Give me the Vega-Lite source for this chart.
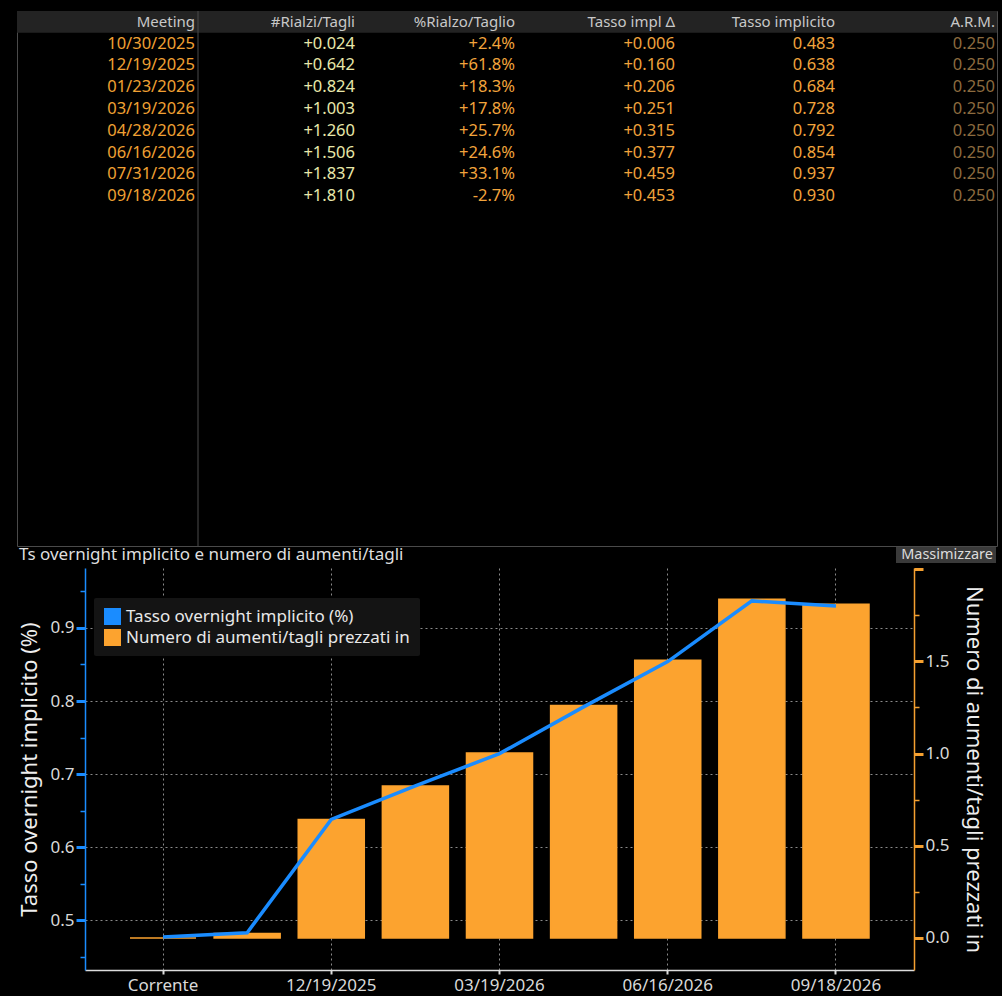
{
  "$schema": "https://vega.github.io/schema/vega-lite/v6.json",
  "background": "#000000",
  "padding": {"left": 16, "top": 10, "right": 4, "bottom": 4},
  "config": {
    "font": "Noto Sans",
    "locale": {"number": {"decimal": ".", "thousands": ",", "grouping": [3], "currency": ["$", ""], "minus": "-"}}
  },
  "datasets": {
    "meetings": [
      {"meeting": "Corrente", "hikes": 0, "rate": 0.477},
      {"meeting": "10/30/2025", "hikes": 0.024, "hike_step": 0.024, "rate_chg": 0.006, "rate": 0.483, "arm": 0.25},
      {"meeting": "12/19/2025", "hikes": 0.642, "hike_step": 0.618, "rate_chg": 0.160, "rate": 0.638, "arm": 0.25},
      {"meeting": "01/23/2026", "hikes": 0.824, "hike_step": 0.183, "rate_chg": 0.206, "rate": 0.684, "arm": 0.25},
      {"meeting": "03/19/2026", "hikes": 1.003, "hike_step": 0.178, "rate_chg": 0.251, "rate": 0.728, "arm": 0.25},
      {"meeting": "04/28/2026", "hikes": 1.260, "hike_step": 0.257, "rate_chg": 0.315, "rate": 0.792, "arm": 0.25},
      {"meeting": "06/16/2026", "hikes": 1.506, "hike_step": 0.246, "rate_chg": 0.377, "rate": 0.854, "arm": 0.25},
      {"meeting": "07/31/2026", "hikes": 1.837, "hike_step": 0.331, "rate_chg": 0.459, "rate": 0.937, "arm": 0.25},
      {"meeting": "09/18/2026", "hikes": 1.810, "hike_step": -0.027, "rate_chg": 0.453, "rate": 0.930, "arm": 0.25}
    ],
    "columns": [
      {"col": "Meeting"},
      {"col": "#Rialzi/Tagli"},
      {"col": "%Rialzo/Taglio"},
      {"col": "Tasso impl Δ"},
      {"col": "Tasso implicito"},
      {"col": "A.R.M."}
    ]
  },
  "columns": 1,
  "align": "none",
  "spacing": 3,
  "resolve": {"scale": {"color": "independent"}, "legend": {"color": "independent"}},
  "concat": [
    {
      "width": 980,
      "height": 535,
      "view": {"stroke": "#4a4a4a", "strokeWidth": 1},
      "layer": [
        {
          "data": {"name": "columns"},
          "transform": [{"filter": "datum.col === 'Meeting'"}],
          "mark": {"type": "rect", "fill": "#232323"},
          "encoding": {
            "y": {
              "field": "col", "type": "nominal",
              "scale": {"type": "band", "domain": ["Meeting", "10/30/2025", "12/19/2025", "01/23/2026", "03/19/2026", "04/28/2026", "06/16/2026", "07/31/2026", "09/18/2026"], "range": [0, 196], "paddingInner": 0, "paddingOuter": 0},
              "axis": null
            }
          }
        },
        {
          "data": {"name": "columns"},
          "transform": [{"filter": "datum.col === 'Meeting'"}],
          "mark": {"type": "rule", "stroke": "#4a4a4a", "strokeWidth": 1, "xOffset": 2},
          "encoding": {
            "x": {
              "field": "col", "type": "nominal",
              "scale": {"type": "point", "domain": ["Meeting", "#Rialzi/Tagli", "%Rialzo/Taglio", "Tasso impl Δ", "Tasso implicito", "A.R.M."], "range": [179, 979], "padding": 0},
              "axis": null
            }
          }
        },
        {
          "data": {"name": "columns"},
          "mark": {"type": "text", "align": "right", "baseline": "middle", "fontSize": 15, "color": "#c8c8c8", "dx": -1},
          "encoding": {
            "x": {"field": "col", "type": "nominal", "axis": null},
            "y": {"datum": "Meeting", "type": "nominal", "axis": null},
            "text": {"field": "col"}
          }
        },
        {
          "data": {"name": "meetings"},
          "transform": [{"filter": "datum.meeting !== 'Corrente'"}],
          "layer": [
            {
              "mark": {"type": "text", "align": "right", "baseline": "middle", "fontSize": 16.5, "color": "#f0a033", "dx": -1},
              "encoding": {
                "x": {"datum": "Meeting", "type": "nominal", "axis": null},
                "y": {"field": "meeting", "type": "nominal", "axis": null},
                "text": {"field": "meeting"}
              }
            },
            {
              "mark": {"type": "text", "align": "right", "baseline": "middle", "fontSize": 16.5, "color": "#e8e8aa", "dx": -1},
              "encoding": {
                "x": {"datum": "#Rialzi/Tagli", "type": "nominal", "axis": null},
                "y": {"field": "meeting", "type": "nominal", "axis": null},
                "text": {"field": "hikes", "format": "+.3f"}
              }
            },
            {
              "mark": {"type": "text", "align": "right", "baseline": "middle", "fontSize": 16.5, "color": "#f2a43c", "dx": -1},
              "encoding": {
                "x": {"datum": "%Rialzo/Taglio", "type": "nominal", "axis": null},
                "y": {"field": "meeting", "type": "nominal", "axis": null},
                "text": {"field": "hike_step", "format": "+.1%"}
              }
            },
            {
              "mark": {"type": "text", "align": "right", "baseline": "middle", "fontSize": 16.5, "color": "#f2a43c", "dx": -1},
              "encoding": {
                "x": {"datum": "Tasso impl Δ", "type": "nominal", "axis": null},
                "y": {"field": "meeting", "type": "nominal", "axis": null},
                "text": {"field": "rate_chg", "format": "+.3f"}
              }
            },
            {
              "mark": {"type": "text", "align": "right", "baseline": "middle", "fontSize": 16.5, "color": "#f2a43c", "dx": -1},
              "encoding": {
                "x": {"datum": "Tasso implicito", "type": "nominal", "axis": null},
                "y": {"field": "meeting", "type": "nominal", "axis": null},
                "text": {"field": "rate", "format": ".3f"}
              }
            },
            {
              "mark": {"type": "text", "align": "right", "baseline": "middle", "fontSize": 16.5, "color": "#8c6b3f", "dx": -1},
              "encoding": {
                "x": {"datum": "A.R.M.", "type": "nominal", "axis": null},
                "y": {"field": "meeting", "type": "nominal", "axis": null},
                "text": {"field": "arm", "format": ".3f"}
              }
            }
          ]
        },
        {
          "data": {"values": [{"caption": "Ts overnight implicito e numero di aumenti/tagli", "button": "Massimizzare"}]},
          "layer": [
            {
              "mark": {"type": "text", "align": "left", "baseline": "middle", "fontSize": 17, "color": "#dedede", "dx": 2, "dy": 9},
              "encoding": {
                "x": {"value": 0},
                "y": {"value": "height"},
                "text": {"field": "caption"}
              }
            },
            {
              "mark": {"type": "rect", "fill": "#3a3a3a", "xOffset": -101, "x2Offset": -1, "yOffset": 1, "y2Offset": 17},
              "encoding": {
                "x": {"value": "width"},
                "x2": {"value": "width"},
                "y": {"value": "height"},
                "y2": {"value": "height"}
              }
            },
            {
              "mark": {"type": "text", "align": "right", "baseline": "middle", "fontSize": 14.5, "color": "#dcdcdc", "dx": -4, "dy": 9},
              "encoding": {
                "x": {"value": "width"},
                "y": {"value": "height"},
                "text": {"field": "button"}
              }
            }
          ]
        }
      ]
    },
    {
      "spacing": 0,
      "resolve": {"scale": {"color": "independent"}, "legend": {"color": "independent"}},
      "hconcat": [
        {
          "width": 1,
          "height": 1,
          "view": {"stroke": null},
          "data": {"values": []},
          "mark": "text"
        },
        {
          "width": 829,
          "height": 402,
          "view": {"stroke": null},
          "data": {"name": "meetings"},
          "encoding": {
            "x": {
              "field": "meeting", "type": "nominal", "sort": null,
              "scale": {"type": "band", "domain": ["Corrente", "10/30/2025", "12/19/2025", "01/23/2026", "03/19/2026", "04/28/2026", "06/16/2026", "07/31/2026", "09/18/2026"], "paddingInner": 0.215, "paddingOuter": 0.535},
              "axis": {
                "title": null,
                "values": ["Corrente", "12/19/2025", "03/19/2026", "06/16/2026", "09/18/2026"],
                "bandPosition": 0.5,
                "labelAngle": 0,
                "labelFontSize": 17,
                "labelColor": "#d9d9d9",
                "labelPadding": 3,
                "domainColor": "#dddddd",
                "domainWidth": 1.5,
                "tickColor": "#dddddd",
                "tickSize": 4,
                "tickWidth": 2,
                "grid": true,
                "gridColor": "#8a8a8a",
                "gridDash": [2, 3],
                "gridWidth": 1
              }
            }
          },
          "layer": [
            {
              "mark": {"type": "bar", "stroke": "#fca32f", "strokeWidth": 1.5},
              "encoding": {
                "y": {
                  "field": "hikes", "type": "quantitative",
                  "scale": {"domain": [-0.174, 2.006], "nice": false, "zero": false},
                  "axis": {
                    "orient": "right",
                    "title": "Numero di aumenti/tagli prezzati in",
                    "titleFontSize": 22,
                    "titleFontWeight": "normal",
                    "titleColor": "#eeeeee",
                    "titlePadding": 12,
                    "values": [0, 0.25, 0.5, 0.75, 1, 1.25, 1.5, 1.75, 2],
                    "labelExpr": "abs(datum.value * 2 - round(datum.value * 2)) < 0.001 && datum.value < 1.9 ? format(datum.value, '.1f') : ''",
                    "labelFontSize": 17,
                    "labelColor": "#d9d9d9",
                    "labelPadding": 2,
                    "domainColor": "#f5a030",
                    "domainWidth": 1.5,
                    "tickColor": "#f5a030",
                    "tickSize": {"condition": {"test": "abs(datum.value * 2 - round(datum.value * 2)) < 0.001", "value": 9}, "value": 5},
                    "tickWidth": {"condition": {"test": "abs(datum.value * 2 - round(datum.value * 2)) < 0.001", "value": 3}, "value": 1.5},
                    "grid": false
                  }
                },
                "color": {
                  "datum": "Numero di aumenti/tagli prezzati in", "type": "nominal",
                  "scale": {"domain": ["Tasso overnight implicito (%)", "Numero di aumenti/tagli prezzati in"], "range": ["#1a8cff", "#fca32f"]},
                  "legend": {
                    "title": null,
                    "orient": "none",
                    "legendX": 9,
                    "legendY": 30,
                    "direction": "vertical",
                    "fillColor": "#141414",
                    "padding": 10,
                    "cornerRadius": 2,
                    "symbolType": "square",
                    "symbolSize": 289,
                    "symbolStrokeWidth": 0,
                    "symbolOpacity": 1,
                    "labelFontSize": 17,
                    "labelColor": "#e8e8e8",
                    "labelOffset": 5,
                    "labelLimit": 400,
                    "rowPadding": 3
                  }
                }
              }
            },
            {
              "mark": {"type": "line", "color": "#1a8cff", "strokeWidth": 3.5},
              "encoding": {
                "y": {
                  "field": "rate", "type": "quantitative",
                  "scale": {"domain": [0.432, 0.982], "nice": false, "zero": false},
                  "axis": {
                    "orient": "left",
                    "title": "Tasso overnight implicito (%)",
                    "titleFontSize": 22,
                    "titleFontWeight": "normal",
                    "titleColor": "#eeeeee",
                    "titlePadding": 8,
                    "values": [0.45, 0.5, 0.55, 0.6, 0.65, 0.7, 0.75, 0.8, 0.85, 0.9, 0.95],
                    "labelExpr": "abs(datum.value * 10 - round(datum.value * 10)) < 0.001 ? format(datum.value, '.1f') : ''",
                    "labelFontSize": 17,
                    "labelColor": "#d9d9d9",
                    "labelPadding": 2,
                    "domainColor": "#1a8cff",
                    "domainWidth": 1.5,
                    "tickColor": "#1a8cff",
                    "tickSize": {"condition": {"test": "abs(datum.value * 10 - round(datum.value * 10)) < 0.001", "value": 9}, "value": 5},
                    "tickWidth": {"condition": {"test": "abs(datum.value * 10 - round(datum.value * 10)) < 0.001", "value": 3}, "value": 1.5},
                    "grid": true,
                    "gridColor": "#8a8a8a",
                    "gridDash": [2, 3],
                    "gridOpacity": {"condition": {"test": "abs(datum.value * 10 - round(datum.value * 10)) < 0.001", "value": 1}, "value": 0}
                  }
                }
              }
            }
          ],
          "resolve": {"scale": {"y": "independent"}}
        }
      ]
    }
  ]
}
